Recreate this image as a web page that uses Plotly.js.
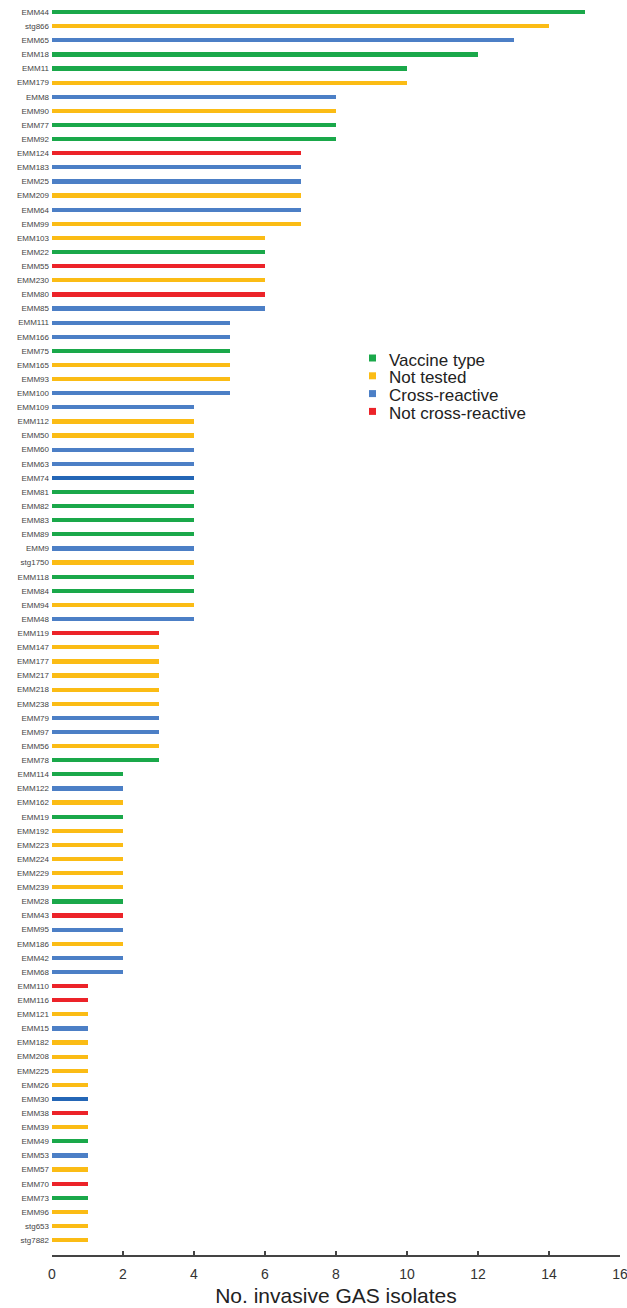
<!DOCTYPE html>
<html>
<head>
<meta charset="utf-8">
<script src="https://cdn.plot.ly/plotly-3.0.1.min.js"></script>
<style>
  html, body { margin: 0; padding: 0; background: #fff; }
  #chart { width: 627px; height: 1308px; }
</style>
</head>
<body>
<div id="chart"></div>
<script>
// emm types / stg types, top to bottom
const types = [
  "EMM44","stg866","EMM65","EMM18","EMM11","EMM179","EMM8","EMM90","EMM77","EMM92",
  "EMM124","EMM183","EMM25","EMM209","EMM64","EMM99","EMM103","EMM22","EMM55","EMM230",
  "EMM80","EMM85","EMM111","EMM166","EMM75","EMM165","EMM93","EMM100","EMM109","EMM112",
  "EMM50","EMM60","EMM63","EMM74","EMM81","EMM82","EMM83","EMM89","EMM9","stg1750",
  "EMM118","EMM84","EMM94","EMM48","EMM119","EMM147","EMM177","EMM217","EMM218","EMM238",
  "EMM79","EMM97","EMM56","EMM78","EMM114","EMM122","EMM162","EMM19","EMM192","EMM223",
  "EMM224","EMM229","EMM239","EMM28","EMM43","EMM95","EMM186","EMM42","EMM68","EMM110",
  "EMM116","EMM121","EMM15","EMM182","EMM208","EMM225","EMM26","EMM30","EMM38","EMM39",
  "EMM49","EMM53","EMM57","EMM70","EMM73","EMM96","stg653","stg7882"
];

// number of invasive isolates per type
const isolates = [
  15,14,13,12,10,10,8,8,8,8,
  7,7,7,7,7,7,6,6,6,6,
  6,6,5,5,5,5,5,5,4,4,
  4,4,4,4,4,4,4,4,4,4,
  4,4,4,4,3,3,3,3,3,3,
  3,3,3,3,2,2,2,2,2,2,
  2,2,2,2,2,2,2,2,2,1,
  1,1,1,1,1,1,1,1,1,1,
  1,1,1,1,1,1,1,1
];

// V = vaccine type, N = not tested, C = cross-reactive, X = not cross-reactive
const status = [
  "V","N","C","V","V","N","C","N","V","V",
  "X","C","C","N","C","N","N","V","X","N",
  "X","C","C","C","V","N","N","C","C","N",
  "N","C","C","C","V","V","V","V","C","N",
  "V","V","N","C","X","N","N","N","N","N",
  "C","C","N","V","V","C","N","V","N","N",
  "N","N","N","V","X","C","N","C","C","X",
  "X","N","C","N","N","N","N","C","X","N",
  "V","C","N","X","V","N","N","N"
];

const groups = [
  {code: "V", name: "Vaccine type", color: "#1aa84a"},
  {code: "N", name: "Not tested", color: "#fbbc15"},
  {code: "C", name: "Cross-reactive", color: "#4c7fc6"},
  {code: "X", name: "Not cross-reactive", color: "#ec2329"}
];

// a couple of cross-reactive bars printed in a deeper blue
const deepBlue = ["EMM74", "EMM30"];

const traces = groups.map(g => {
  const ys = [], xs = [], cols = [];
  types.forEach((t, i) => {
    if (status[i] === g.code) {
      ys.push(t);
      xs.push(isolates[i]);
      cols.push(g.code === "C" && deepBlue.includes(t) ? "#2466b6" : g.color);
    }
  });
  return {
    type: "bar",
    orientation: "h",
    name: g.name,
    x: xs,
    y: ys,
    width: 0.3,
    marker: {color: cols, line: {width: 0}},
    hoverinfo: "x+y"
  };
});

// compact key: small squares with labels, placed in the empty right part of the plot
const W = 627, H = 1308;
const M = {l: 52, r: 7, t: 5, b: 53};
const px2x = px => (px - M.l) / (W - M.l - M.r);
const px2y = py => 1 - (py - M.t) / (H - M.t - M.b);
const keyLeft = 369, keyTop = 359, keyStep = 17.8, sq = 7;

const keyShapes = groups.map((g, i) => ({
  type: "rect", xref: "paper", yref: "paper",
  x0: px2x(keyLeft), x1: px2x(keyLeft + sq),
  y0: px2y(keyTop + i * keyStep - 1 + sq / 2), y1: px2y(keyTop + i * keyStep - 1 - sq / 2),
  fillcolor: g.color, line: {width: 0}
}));

const keyLabels = groups.map((g, i) => ({
  xref: "paper", yref: "paper",
  x: px2x(keyLeft + 18), y: px2y(keyTop + i * keyStep + 1),
  xanchor: "left", yanchor: "middle",
  text: g.name, showarrow: false,
  font: {size: 17, color: "#222"}
}));

const layout = {
  width: W,
  height: H,
  margin: M,
  paper_bgcolor: "#ffffff",
  plot_bgcolor: "#ffffff",
  barmode: "stack",
  showlegend: false,
  font: {family: "Liberation Sans, Arial, sans-serif", color: "#222"},
  xaxis: {
    range: [0, 16],
    dtick: 2,
    showgrid: false,
    zeroline: false,
    showline: true,
    linecolor: "#444",
    linewidth: 2,
    ticks: "inside",
    ticklen: 4,
    tickwidth: 1.5,
    tickcolor: "#444",
    ticklabelstandoff: 5,
    ticklabeloverflow: "allow",
    automargin: false,
    tickfont: {size: 14, color: "#333"},
    title: {text: "No. invasive GAS isolates", font: {size: 21, color: "#222"}, standoff: 8}
  },
  yaxis: {
    type: "category",
    categoryorder: "array",
    categoryarray: types,
    range: [88.05, -0.5],
    showgrid: false,
    zeroline: false,
    showline: false,
    ticks: "",
    ticklabelstandoff: 2,
    tickfont: {size: 8, color: "#444", family: "Liberation Sans Narrow, Liberation Sans, Arial, sans-serif"}
  },
  shapes: keyShapes,
  annotations: keyLabels
};

Plotly.newPlot("chart", traces, layout, {displayModeBar: false, staticPlot: true});
</script>
</body>
</html>
